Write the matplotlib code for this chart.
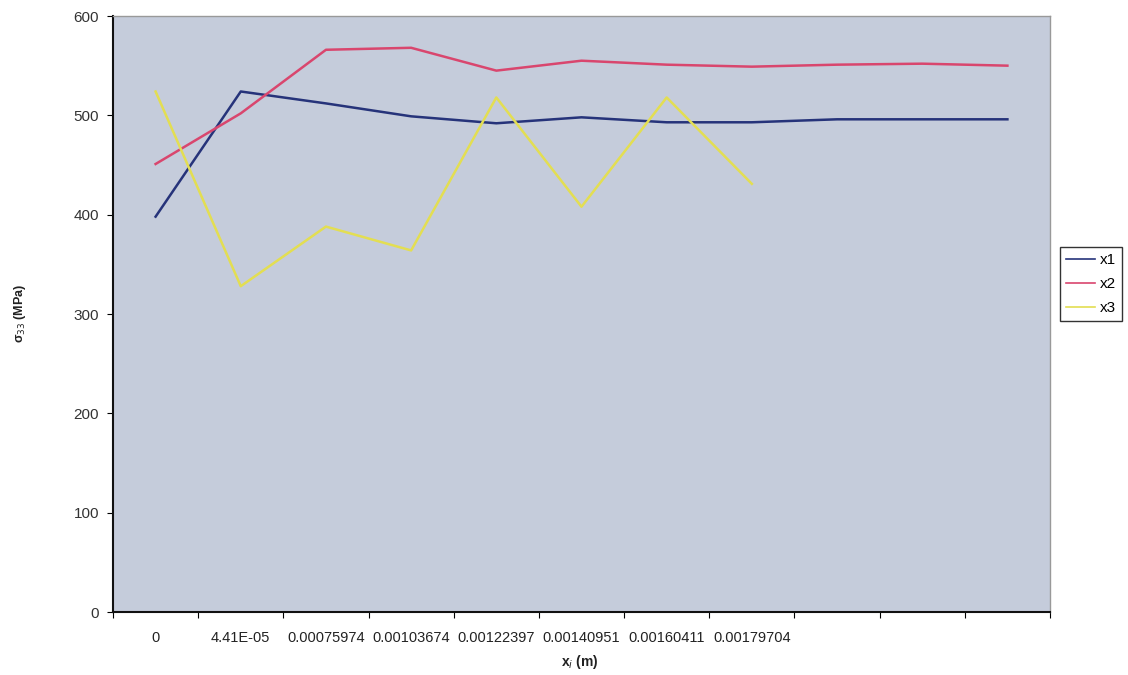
import matplotlib
matplotlib.use("Agg")
import matplotlib.pyplot as plt

categories = ["0", "4.41E-05", "0.00075974", "0.00103674", "0.00122397",
              "0.00140951", "0.00160411", "0.00179704", "", "", ""]
x1 = [398, 524, 512, 499, 492, 498, 493, 493, 496, 496, 496]
x2 = [451, 502, 566, 568, 545, 555, 551, 549, 551, 552, 550]
x3 = [524, 328, 388, 364, 518, 408, 518, 431]
yticks = [0, 100, 200, 300, 400, 500, 600]

plt.rcParams['font.family'] = ['Liberation Sans', 'DejaVu Sans']

fig = plt.figure(figsize=(11.28, 6.75), dpi=100)
fig.patch.set_facecolor('white')
ax = fig.add_axes([113/1128, 1 - 612/675, (1050-113)/1128, (612-16)/675])
ax.set_facecolor('#C5CCDB')

idx = list(range(len(categories)))
ax.plot(idx[:len(x1)], x1, color='#26337A', lw=1.8, label='x1')
ax.plot(idx[:len(x2)], x2, color='#D9466E', lw=1.8, label='x2')
ax.plot(idx[:len(x3)], x3, color='#E3DE52', lw=1.8, label='x3')

ax.set_xlim(-0.5, len(categories) - 0.5)
ax.set_ylim(0, 600)
ax.set_yticks(yticks)
ax.set_yticklabels([str(v) for v in yticks], fontsize=11, color='#333333')
ax.tick_params(axis='y', length=4, direction='out', pad=6)

ax.set_xticks([i - 0.5 for i in range(len(categories) + 1)], minor=False)
ax.set_xticklabels([])
ax.set_xticks(idx, minor=True)
ax.set_xticklabels(categories, minor=True, fontsize=10.5, color='#222222')
ax.tick_params(axis='x', which='major', length=4, direction='out')
ax.tick_params(axis='x', which='minor', length=0, pad=14)

for s in ['left', 'bottom']:
    ax.spines[s].set_color('#111111')
    ax.spines[s].set_linewidth(1.5)
for s in ['top', 'right']:
    ax.spines[s].set_color('#999999')
    ax.spines[s].set_linewidth(1.0)

fig.text(580/1128, 1 - 662/675, r'x$_i$ (m)', fontsize=10, fontweight='bold',
         color='#222222', ha='center', va='center')
fig.text(20/1128, 1 - 313/675, r'σ$_{33}$ (MPa)', fontsize=9, fontweight='bold',
         color='#222222', ha='center', va='center', rotation=90)

leg = fig.legend(loc='center', bbox_to_anchor=(1091/1128, 1 - 284/675), fontsize=11,
                 frameon=True, fancybox=False, edgecolor='black', handlelength=1.9,
                 handletextpad=0.3, borderpad=0.4, labelspacing=0.65)
leg.get_frame().set_linewidth(1.0)
for h in leg.get_lines():
    h.set_linewidth(1.2)

fig.savefig('out.png', dpi=100, facecolor='white')
